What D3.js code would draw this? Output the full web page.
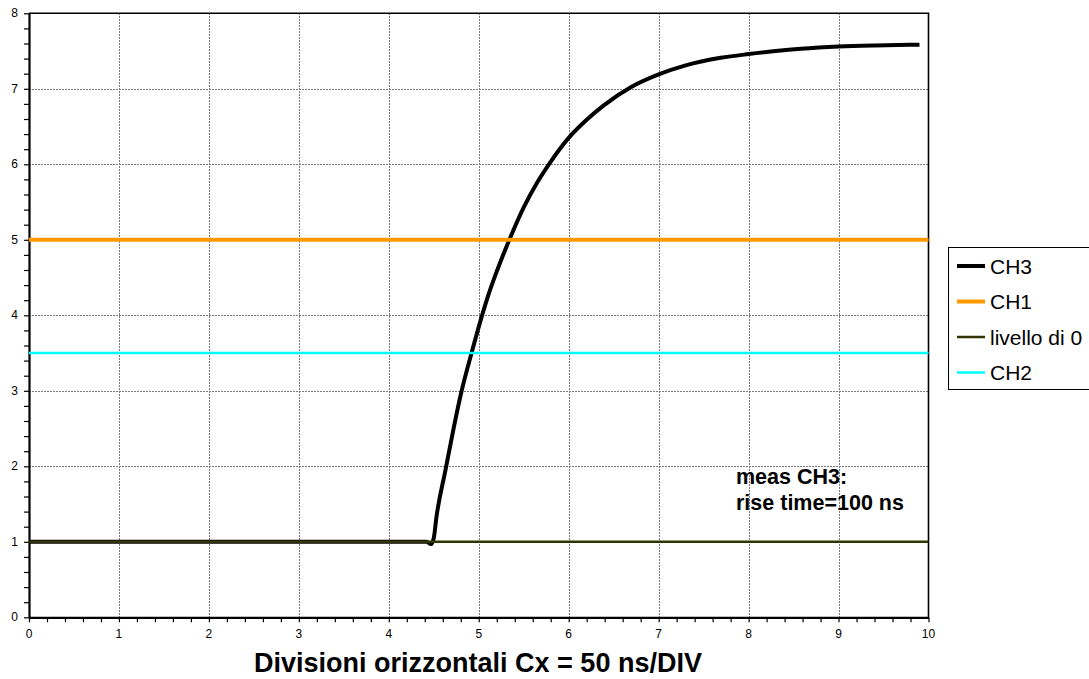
<!DOCTYPE html>
<html>
<head>
<meta charset="utf-8">
<script src="https://cdn.jsdelivr.net/npm/d3@7"></script>
<style>
  html, body { margin: 0; padding: 0; background: #fff; }
  svg { display: block; font-family: "Liberation Sans", Arial, sans-serif; }
</style>
</head>
<body>
<svg id="chart" width="1089" height="679"></svg>
<script>
// Oscilloscope trace: horizontal divisions (50 ns/DIV) vs. vertical divisions
const xTicks = [0, 1, 2, 3, 4, 5, 6, 7, 8, 9, 10];
const yTicks = [0, 1, 2, 3, 4, 5, 6, 7, 8];

// CH3 waveform sampled along the horizontal divisions
const ch3X = [0, 4.2, 4.42, 4.47, 4.5, 4.53, 4.63, 4.72, 4.81, 4.92, 5.02, 5.11, 5.2, 5.34, 5.5, 5.65, 5.78, 6.0, 6.2, 6.39, 6.69, 7.0, 7.3, 7.69, 8.0, 8.3, 8.58, 9.0, 9.4, 9.9];
const ch3Y = [1, 1, 1, 0.97, 1.05, 1.33, 1.95, 2.5, 3.0, 3.5, 3.93, 4.28, 4.58, 5.0, 5.43, 5.76, 6.0, 6.35, 6.59, 6.78, 7.02, 7.19, 7.31, 7.41, 7.46, 7.5, 7.53, 7.56, 7.575, 7.585];

// Constant reference levels
const ch1Level = 5;
const zeroLevel = 1;
const ch2Level = 3.5;

const seriesNames = ["CH3", "CH1", "livello di 0", "CH2"];
const seriesColors = ["#000000", "#FF9900", "#333300", "#00FFFF"];
const seriesWidths = [4, 4, 2.5, 2.5];

const xTitle = "Divisioni orizzontali Cx = 50 ns/DIV";
const noteLines = ["meas CH3:", "rise time=100 ns"];

const svg = d3.select("#chart");
const plotL = 29, plotR = 928.5, plotT = 13.3, plotB = 617.3;

const x = d3.scaleLinear().domain([0, 10]).range([plotL, plotR]);
const y = d3.scaleLinear().domain([0, 8]).range([plotB, plotT]);

// Grid
const grid = svg.append("g").attr("stroke", "#7a7a7a").attr("stroke-width", 1)
  .attr("stroke-dasharray", "2,1").attr("shape-rendering", "crispEdges");
grid.selectAll("line.v").data(xTicks.slice(1, -1)).join("line")
  .attr("class", "v")
  .attr("x1", d => Math.round(x(d)) + 0.5).attr("x2", d => Math.round(x(d)) + 0.5)
  .attr("y1", plotT).attr("y2", plotB);
grid.selectAll("line.h").data(yTicks.slice(1, -1)).join("line")
  .attr("class", "h")
  .attr("y1", d => Math.round(y(d)) + 0.5).attr("y2", d => Math.round(y(d)) + 0.5)
  .attr("x1", plotL).attr("x2", plotR);

// Plot frame (top and right)
svg.append("path")
  .attr("d", `M${plotL},${plotT}H${plotR}V${plotB}`)
  .attr("fill", "none").attr("stroke", "#000").attr("stroke-width", 1.6);

// Axes with minor ticks every 0.2 division
const minorX = d3.range(0, 10.001, 0.2);
const minorY = d3.range(0, 8.001, 0.2);

const xAxis = svg.append("g").attr("transform", `translate(0,${plotB})`)
  .call(d3.axisBottom(x).tickValues(minorX).tickSize(5).tickSizeOuter(0).tickFormat(""));
xAxis.select(".domain").attr("stroke-width", 2.2);
xAxis.selectAll(".tick line").attr("stroke-width", 1.2);
svg.append("g").selectAll("text").data(xTicks).join("text")
  .attr("x", d => x(d)).attr("y", plotB + 21)
  .attr("text-anchor", "middle").attr("font-size", 12).attr("fill", "#000")
  .text(d => d);

const yAxis = svg.append("g").attr("transform", `translate(${plotL},0)`)
  .call(d3.axisLeft(y).tickValues(minorY).tickSize(5).tickSizeOuter(0).tickFormat(""));
yAxis.select(".domain").attr("stroke-width", 2.2);
yAxis.selectAll(".tick line").attr("stroke-width", 1.2);
svg.append("g").selectAll("text").data(yTicks).join("text")
  .attr("x", plotL - 11).attr("y", d => y(d) + 4)
  .attr("text-anchor", "end").attr("font-size", 12).attr("fill", "#000")
  .text(d => d);

// Series
const line = d3.line().x(d => x(d[0])).y(d => y(d[1])).curve(d3.curveMonotoneX);
const ch3 = ch3X.map((v, i) => [v, ch3Y[i]]);

svg.append("path").datum(ch3).attr("d", line)
  .attr("fill", "none").attr("stroke", seriesColors[0]).attr("stroke-width", seriesWidths[0])
  .attr("stroke-linejoin", "round");

const levels = [
  { v: ch1Level, i: 1 },
  { v: zeroLevel, i: 2 },
  { v: ch2Level, i: 3 }
];
levels.forEach(l => {
  svg.append("line")
    .attr("x1", x(0)).attr("x2", x(10))
    .attr("y1", y(l.v)).attr("y2", y(l.v))
    .attr("stroke", seriesColors[l.i]).attr("stroke-width", seriesWidths[l.i]);
});

// Annotation
const note = svg.append("text").attr("font-size", 21.5).attr("font-weight", "bold").attr("fill", "#000");
noteLines.forEach((t, i) => {
  note.append("tspan").attr("x", 736).attr("y", 484 + i * 26).text(t);
});

// Axis title
svg.append("text").attr("x", 478).attr("y", 672)
  .attr("text-anchor", "middle").attr("font-size", 27).attr("font-weight", "bold")
  .text(xTitle);

// Legend
const lg = svg.append("g");
lg.append("rect").attr("x", 948.5).attr("y", 247.5).attr("width", 160).attr("height", 142)
  .attr("fill", "#fff").attr("stroke", "#000").attr("stroke-width", 1);
seriesNames.forEach((name, i) => {
  const cy = 266 + i * 35.5;
  lg.append("line").attr("x1", 957).attr("x2", 985).attr("y1", cy).attr("y2", cy)
    .attr("stroke", seriesColors[i]).attr("stroke-width", seriesWidths[i]);
  lg.append("text").attr("x", 990).attr("y", cy + 7.5).attr("font-size", 21).attr("fill", "#000")
    .text(name);
});
</script>
</body>
</html>
